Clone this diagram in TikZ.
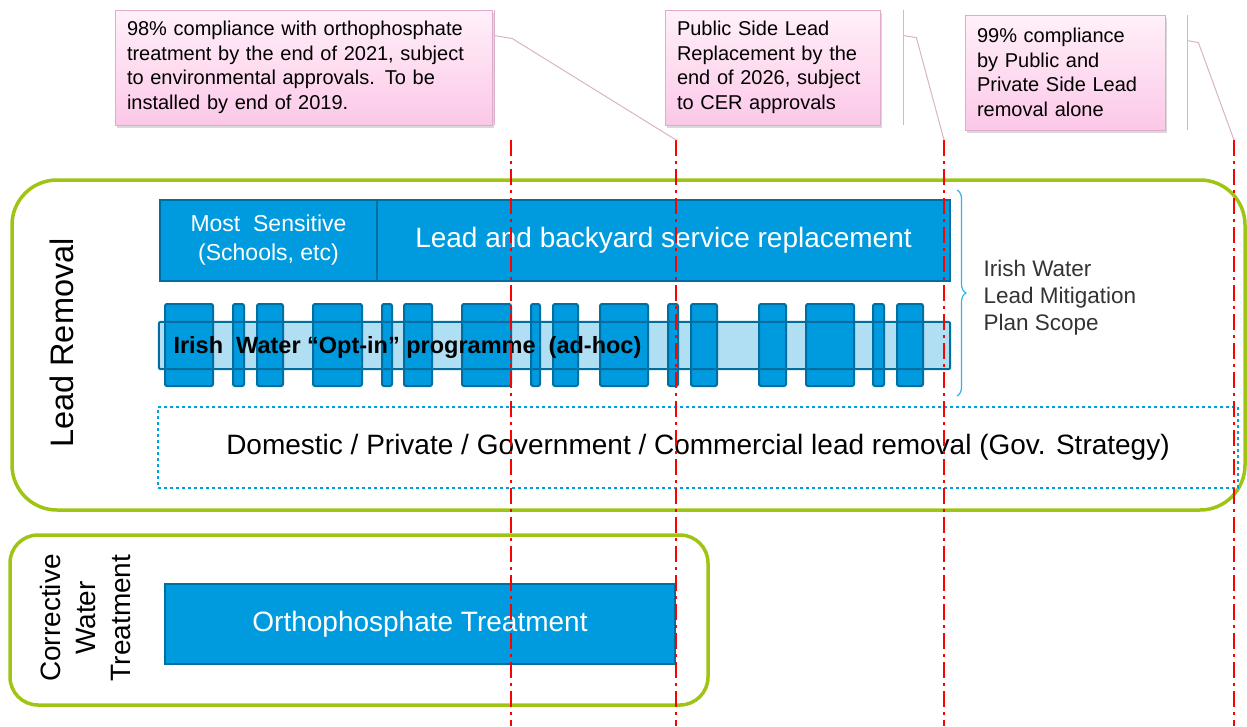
\documentclass[tikz,border=0pt]{standalone}
\usepackage{fontspec}
\setmainfont{Liberation Sans}
\usetikzlibrary{shadows,decorations.pathreplacing}
\definecolor{iwblue}{RGB}{0,155,222}
\definecolor{iwedge}{RGB}{0,110,160}
\definecolor{iwlight}{RGB}{176,222,242}
\definecolor{iwgreen}{RGB}{160,196,20}
\definecolor{dotblue}{RGB}{0,160,225}
\definecolor{pinktop}{RGB}{255,240,249}
\definecolor{pinkbot}{RGB}{252,200,232}
\definecolor{pinkedge}{RGB}{225,170,205}
\definecolor{leaderpink}{RGB}{215,180,200}
\begin{document}
\begin{tikzpicture}[
       x=1pt, y=-1pt,
       frame/.style={draw=iwgreen, line width=3.5pt, inner sep=0pt},
       bluebox/.style={draw=iwedge, fill=iwblue, line width=2pt, text=white, inner sep=0pt},
       optbox/.style={draw=iwedge, fill=iwblue, line width=2pt, rounded corners=2pt},
       callout/.style={draw=pinkedge, line width=0.8pt, top color=pinktop, bottom color=pinkbot,
         drop shadow={opacity=0.3, shadow xshift=2pt, shadow yshift=-3pt},
         align=left, inner xsep=12pt, font=\fontsize{20}{24.5}\selectfont},
       leader/.style={draw=leaderpink, line width=1pt},
       redline/.style={draw=red, line width=2pt, dash pattern=on 16pt off 5pt on 3pt off 5pt},
       ]
      \useasboundingbox (0,0) rectangle (1247,726);

      % frames
      \node[frame, minimum width=1233pt, minimum height=330pt, rounded corners=45pt]
        (leadframe) at (628.5,345) {};
      \node[frame, minimum width=698pt, minimum height=170pt, rounded corners=28pt]
        (cwtframe) at (359,620) {};
      \node[rotate=90, font=\fontsize{32.5}{38}\selectfont] (leadlbl) at (62,343) {Lead Removal};
      \node[rotate=90, align=center, font=\fontsize{28}{35}\selectfont]
        (cwtlbl) at (85,618) {Corrective\\Water\\Treatment};

      % lead removal rows
      \node[bluebox, minimum width=217pt, minimum height=81pt, align=center,
        font=\fontsize{23}{29}\selectfont] (sensitive) at (268.5,240.5) {\raisebox{-4pt}{Most\ \ Sensitive}\\\raisebox{-4pt}{(Schools, etc)}};
      \node[bluebox, minimum width=573pt, minimum height=81pt, font=\fontsize{28}{32}\selectfont]
        (backyard) at (663.5,240.5) {\raisebox{-3pt}{Lead and backyard service replacement}};

      \node[fill=iwlight, minimum width=791pt, minimum height=47pt, inner sep=0pt] (optin) at (554.5,345.5) {};
      \foreach \a/\b in {165/213, 233/244, 257/283, 313/362, 382/392, 404/432, 462/511, 531/540,
                         553/578, 600/648, 668/678, 691/717, 759/786, 806/854, 873/884, 897/923}
        \draw[optbox] (\a,304) rectangle (\b,386);
      \draw[iwedge, line width=2pt, rounded corners=2pt] (optin.north west) rectangle (optin.south east);
      \node[anchor=west, font=\bfseries\fontsize{23.5}{26}\selectfont] (optlbl) at (170,347)
        {Irish\ \ Water “Opt-in” programme\ \ (ad-hoc)};

      \node[draw=dotblue, line width=2.5pt, dash pattern=on 3pt off 3pt, minimum width=1080pt,
        minimum height=81pt, font=\fontsize{28}{32}\selectfont] (gov) at (698,447.5)
        {Domestic / Private / Government / Commercial lead removal (Gov. Strategy)};

      % scope brace
      \coordinate (bracetop) at (957,190);
      \coordinate (bracebot) at (957,396);
      \draw[decorate, decoration={brace, amplitude=9pt}, dotblue!80, line width=1.2pt] (bracetop) -- (bracebot);
      \node[anchor=west, align=left, text=black!80, font=\fontsize{22.5}{27}\selectfont]
        (scope) at (980,298) {Irish Water\\Lead Mitigation\\Plan Scope};

      % corrective treatment
      \node[bluebox, minimum width=510pt, minimum height=80pt, font=\fontsize{28}{32}\selectfont]
        (ortho) at (420,624) {Orthophosphate Treatment};

      % milestones
      \foreach \x/\n in {511/ra, 676/rb, 944/rc, 1234/rd} {
        \coordinate (\n) at (\x,140);
        \coordinate (\n end) at (\x,726);
        \draw[redline] (\n) -- (\n end);
      }

      \node[callout, minimum width=377pt, minimum height=115pt, text width=353pt]
        (call1) at (303.5,67.5) {98\% compliance with orthophosphate\\treatment by the end of 2021, subject\\to environmental approvals. To be\\installed by end of 2019.};
      \node[callout, minimum width=215pt, minimum height=115pt, text width=191pt]
        (call2) at (772.5,67.5) {Public Side Lead\\Replacement by the\\end of 2026, subject\\to CER approvals};
      \node[callout, minimum width=200pt, minimum height=115pt, text width=176pt]
        (call3) at (1065,72.5) {99\% compliance\\by Public and\\Private Side Lead\\removal alone};

      \draw[leader] ([xshift=2pt]call1.north east) -- ([xshift=2pt]call1.south east);
      \draw[leader] ([xshift=2pt]call1.north east) ++(0,26) -- ++(18,3) -- (rb);
      \draw[leader] ([xshift=23pt]call2.north east) -- ([xshift=23pt]call2.south east);
      \draw[leader] ([xshift=23pt]call2.north east) ++(0,26) -- ++(13,2) -- (rc);
      \draw[leader] ([xshift=22pt]call3.north east) -- ([xshift=22pt]call3.south east);
      \draw[leader] ([xshift=22pt]call3.north east) ++(0,26) -- ++(11,2) -- (rd);
     \end{tikzpicture}
\end{document}
